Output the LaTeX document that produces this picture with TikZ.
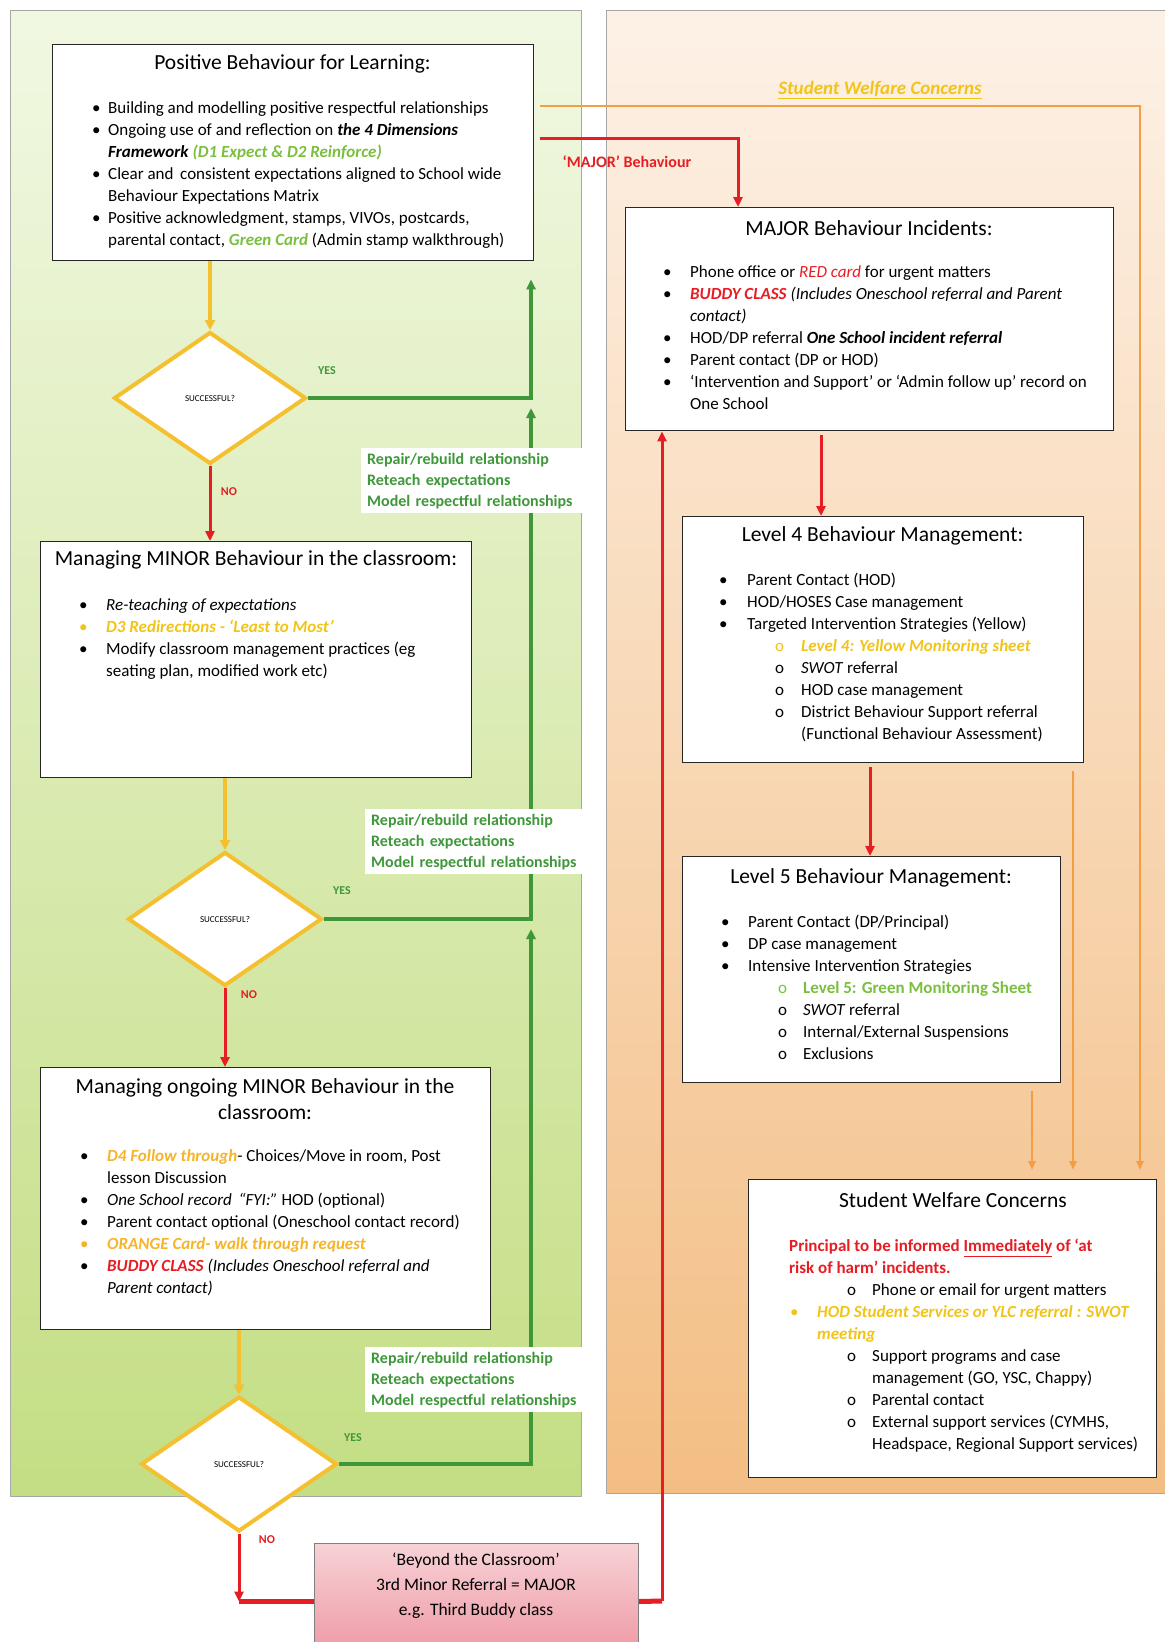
\documentclass[tikz,border=0pt]{standalone}
\usepackage{fontspec}
\setmainfont{Carlito}
\usetikzlibrary{shapes.geometric,arrows.meta,calc}
\definecolor{myred}{RGB}{230,30,36}
\definecolor{lgreen}{RGB}{62,152,58}
\definecolor{mygold}{RGB}{244,192,48}
\definecolor{myorange}{RGB}{244,158,68}
\definecolor{ytext}{RGB}{242,196,24}
\definecolor{otext}{RGB}{246,180,40}
\definecolor{gtext}{RGB}{122,192,62}
\definecolor{grtop}{RGB}{241,248,226}
\definecolor{grbot}{RGB}{196,222,132}
\definecolor{ortop}{RGB}{253,241,230}
\definecolor{orbot}{RGB}{243,190,132}
\definecolor{pktop}{RGB}{247,210,214}
\definecolor{pkbot}{RGB}{238,150,162}
\begin{document}
\begin{tikzpicture}[x=1pt,y=-1pt,
  box/.style={draw=black!85, line width=1.3pt, fill=white, inner sep=0pt, anchor=north west},
  body/.style={font=\fontsize{17}{22}\selectfont, align=left, inner sep=0pt, anchor=north west},
  ttl/.style={font=\fontsize{21.5}{26}\selectfont, align=center, inner sep=0pt},
  dia/.style={diamond, draw=mygold, line width=4pt, fill=white, inner sep=0pt, font=\fontsize{9}{10}\selectfont},
  lbl/.style={fill=white, inner xsep=6pt, inner ysep=0pt, text width=210pt, minimum height=65pt, anchor=north west, text=lgreen, font=\bfseries\fontsize{16}{21}\selectfont, align=left},
  yesno/.style={font=\bfseries\fontsize{12}{14}\selectfont, inner sep=0pt},
  yline/.style={draw=mygold, line width=3.5pt, -{Triangle[length=10pt,width=10pt]}},
  rline/.style={draw=myred, line width=3pt, -{Triangle[length=10pt,width=9pt]}},
  rthick/.style={draw=myred, line width=5pt},
  gline/.style={draw=lgreen, line width=3.5pt, -{Triangle[length=10pt,width=9pt]}},
  oline/.style={draw=myorange, line width=2.5pt, -{Triangle[length=9pt,width=7pt]}}
]
\useasboundingbox (0,0) rectangle (1165,1642);
\fill[white] (0,0) rectangle (1165,1642);
% panels
\path[draw=black!35, line width=0.8pt, top color=grtop, bottom color=grbot] (10,10) rectangle (581,1496);
\path[draw=black!35, line width=0.8pt, top color=ortop, bottom color=orbot] (606,10) rectangle (1165,1493);

% boxes
\node[box, minimum width=481pt, minimum height=216pt] (pbl) at (52,44) {};
\node[box, minimum width=488pt, minimum height=223pt] (major) at (625,207) {};
\node[box, minimum width=401pt, minimum height=246pt] (l4) at (682,516) {};
\node[box, minimum width=378pt, minimum height=226pt] (l5) at (682,856) {};
\node[box, minimum width=408pt, minimum height=298pt] (swc) at (748,1179) {};
\node[box, minimum width=431pt, minimum height=236pt] (box2) at (40,541) {};
\node[box, minimum width=450pt, minimum height=262pt] (box3) at (40,1067) {};
\node[draw=black!50, line width=1pt, top color=pktop, bottom color=pkbot, inner sep=0pt, anchor=north west, minimum width=324pt, minimum height=116pt] (beyond) at (314,1543) {};

% diamonds
\node[dia, minimum width=192pt, minimum height=132pt] (d1) at (210,398) {SUCCESSFUL?};
\node[dia, minimum width=194pt, minimum height=134pt] (d2) at (225,919) {SUCCESSFUL?};
\node[dia, minimum width=196pt, minimum height=135pt] (d3) at (239,1464) {SUCCESSFUL?};

% titles
\node[ttl] (pblt) at (292.5,64) {Positive Behaviour for Learning:};
\node[ttl] (majort) at (869,228) {MAJOR Behaviour Incidents:};
\node[ttl] (l4t) at (882.5,536) {Level 4 Behaviour Management:};
\node[ttl] (l5t) at (871,878) {Level 5 Behaviour Management:};
\node[ttl] (swct) at (953,1200) {Student Welfare Concerns};
\node[ttl] (box2t) at (256,560) {Managing MINOR Behaviour in the classroom:};
\node[ttl] (box3t) at (265,1099) {Managing ongoing MINOR Behaviour in the\\classroom:};

% body texts
\node[body] (pblb) at (92,101) {%
\makebox[16pt][l]{\textbullet}Building and modelling positive respectful relationships\\
\makebox[16pt][l]{\textbullet}Ongoing use of and reflection on \textbf{\textit{the 4 Dimensions}}\\
\hspace*{16pt}\textbf{\textit{Framework}} \textcolor{gtext}{\textbf{\textit{(D1 Expect \& D2 Reinforce)}}}\\
\makebox[16pt][l]{\textbullet}Clear and\, consistent expectations aligned to School wide\\
\hspace*{16pt}Behaviour Expectations Matrix\\
\makebox[16pt][l]{\textbullet}Positive acknowledgment, stamps, VIVOs, postcards,\\
\hspace*{16pt}parental contact, \textcolor{gtext}{\textbf{\textit{Green Card}}} (Admin stamp walkthrough)};

\node[body] (majorb) at (663,265) {%
\makebox[27pt][l]{\textbullet}Phone office or \textcolor{myred}{\textit{RED card}} for urgent matters\\
\makebox[27pt][l]{\textbullet}\textcolor{myred}{\textbf{\textit{BUDDY CLASS}}} \textit{(Includes Oneschool referral and Parent}\\
\hspace*{27pt}\textit{contact)}\\
\makebox[27pt][l]{\textbullet}HOD/DP referral \textbf{\textit{One School incident referral}}\\
\makebox[27pt][l]{\textbullet}Parent contact (DP or HOD)\\
\makebox[27pt][l]{\textbullet}`Intervention and Support' or `Admin follow up' record on\\
\hspace*{27pt}One School};

\node[body] (l4b) at (719,573) {%
\makebox[28pt][l]{\textbullet}Parent Contact (HOD)\\
\makebox[28pt][l]{\textbullet}HOD/HOSES Case management\\
\makebox[28pt][l]{\textbullet}Targeted Intervention Strategies (Yellow)\\
\hspace*{56pt}\textcolor{ytext}{\makebox[26pt][l]{o}\textbf{\textit{Level 4: Yellow Monitoring sheet}}}\\
\hspace*{56pt}\makebox[26pt][l]{o}\textit{SWOT} referral\\
\hspace*{56pt}\makebox[26pt][l]{o}HOD case management\\
\hspace*{56pt}\makebox[26pt][l]{o}District Behaviour Support referral\\
\hspace*{82pt}(Functional Behaviour Assessment)};

\node[body] (l5b) at (721,915) {%
\makebox[27pt][l]{\textbullet}Parent Contact (DP/Principal)\\
\makebox[27pt][l]{\textbullet}DP case management\\
\makebox[27pt][l]{\textbullet}Intensive Intervention Strategies\\
\hspace*{57pt}\textcolor{gtext}{\makebox[25pt][l]{o}\textbf{Level 5: Green Monitoring Sheet}}\\
\hspace*{57pt}\makebox[25pt][l]{o}\textit{SWOT} referral\\
\hspace*{57pt}\makebox[25pt][l]{o}Internal/External Suspensions\\
\hspace*{57pt}\makebox[25pt][l]{o}Exclusions};

\node[body] (swcb) at (789,1239) {%
\textcolor{myred}{\textbf{Principal to be informed \underline{Immediately} of `at}}\\
\textcolor{myred}{\textbf{risk of harm' incidents.}}\\
\hspace*{58pt}\makebox[25pt][l]{o}Phone or email for urgent matters\\
\hspace*{1pt}\textcolor{ytext}{\makebox[27pt][l]{\textbullet}\textbf{\textit{HOD Student Services or YLC referral : SWOT}}}\\
\hspace*{28pt}\textcolor{ytext}{\textbf{\textit{meeting}}}\\
\hspace*{58pt}\makebox[25pt][l]{o}Support programs and case\\
\hspace*{83pt}management (GO, YSC, Chappy)\\
\hspace*{58pt}\makebox[25pt][l]{o}Parental contact\\
\hspace*{58pt}\makebox[25pt][l]{o}External support services (CYMHS,\\
\hspace*{83pt}Headspace, Regional Support services)};

\node[body] (box2b) at (79,598) {%
\makebox[27pt][l]{\textbullet}\textit{Re-teaching of expectations}\\
\textcolor{ytext}{\makebox[27pt][l]{\textbullet}\textbf{\textit{D3 Redirections - `Least to Most'}}}\\
\makebox[27pt][l]{\textbullet}Modify classroom management practices (eg\\
\hspace*{27pt}seating plan, modified work etc)};

\node[body] (box3b) at (80,1149) {%
\makebox[27pt][l]{\textbullet}\textcolor{otext}{\textbf{\textit{D4 Follow through}}}- Choices/Move in room, Post\\
\hspace*{27pt}lesson Discussion\\
\makebox[27pt][l]{\textbullet}\textit{One School record\, ``FYI:''} HOD (optional)\\
\makebox[27pt][l]{\textbullet}Parent contact optional (Oneschool contact record)\\
\textcolor{otext}{\makebox[27pt][l]{\textbullet}\textbf{\textit{ORANGE Card- walk through request}}}\\
\makebox[27pt][l]{\textbullet}\textcolor{myred}{\textbf{\textit{BUDDY CLASS}}} \textit{(Includes Oneschool referral and}\\
\hspace*{27pt}\textit{Parent contact)}};

\node[font=\fontsize{17.5}{25}\selectfont, align=center, inner sep=0pt] (beyondt) at (476,1586) {`Beyond the Classroom'\\3rd Minor Referral = MAJOR\\e.g. Third Buddy class};

% flow arrows left column
\draw[yline] (d1.north |- pbl.south) -- (d1.north);
\draw[rline] (d1.south) -- (d1.south |- box2.north);
\draw[yline] (d2.north |- box2.south) -- (d2.north);
\draw[rline] (d2.south) -- (d2.south |- box3.north);
\draw[yline] (d3.north |- box3.south) -- (d3.north);
\coordinate (c3) at (d3.south |- beyond.west);
\draw[rline] (d3.south) -- (c3);
\draw[rthick] (c3) -- (beyond.west);
\coordinate (c4) at (662,1601);
\draw[rthick] (beyond.east) -- (c4);
\draw[rline] (c4) -- (c4 |- major.south);

% green return lines
\coordinate (gx) at (531,0);
\draw[gline] (d1.east) -- (d1.east -| gx) -- ($(gx |- pbl.south)+(0,18)$);
\draw[gline] (d2.east) -- (d2.east -| gx) -- ($(d1.east -| gx)+(0,10)$);
\draw[gline] (d3.east) -- (d3.east -| gx) -- ($(d2.east -| gx)+(0,10)$);

% green labels
\node[lbl] (lab1) at (361,448) {Repair/rebuild relationship\\Reteach expectations\\Model respectful relationships};
\node[lbl] (lab2) at (365,809) {Repair/rebuild relationship\\Reteach expectations\\Model respectful relationships};
\node[lbl] (lab3) at (365,1347) {Repair/rebuild relationship\\Reteach expectations\\Model respectful relationships};

\node[yesno, text=lgreen] (yes1) at (327,371) {YES};
\node[yesno, text=lgreen] (yes2) at (342,891) {YES};
\node[yesno, text=lgreen] (yes3) at (353,1438) {YES};
\node[yesno, text=myred] (no1) at (229,492) {NO};
\node[yesno, text=myred] (no2) at (249,995) {NO};
\node[yesno, text=myred] (no3) at (267,1540) {NO};

% right column arrows
\coordinate (mj) at (738,138);
\draw[rline] ($(pbl.east |- mj)+(6,0)$) -- (mj) -- (mj |- major.north);
\node[text=myred, font=\bfseries\fontsize{16}{18}\selectfont, inner sep=0pt] (majlbl) at (627,162) {`MAJOR' Behaviour};
\coordinate (o1) at (1140,106);
\draw[oline, shorten >=9pt] ($(pbl.east |- o1)+(6,0)$) -- (o1) -- (o1 |- swc.north);
\node[text=ytext, font=\bfseries\itshape\fontsize{19}{22}\selectfont, inner sep=0pt] (swclbl) at (880,90) {\underline{Student Welfare Concerns}};
\coordinate (r2) at (821,0);
\draw[rline] ($(r2 |- major.south)+(0,4)$) -- (r2 |- l4.north);
\coordinate (r3) at (870,0);
\draw[rline] ($(r3 |- l4.south)+(0,4)$) -- (r3 |- l5.north);
\coordinate (o2) at (1073,0);
\draw[oline, shorten >=9pt] ($(o2 |- l4.south)+(0,8)$) -- (o2 |- swc.north);
\coordinate (o3) at (1032,0);
\draw[oline, shorten >=9pt] ($(o3 |- l5.south)+(0,8)$) -- (o3 |- swc.north);
\end{tikzpicture}
\end{document}
